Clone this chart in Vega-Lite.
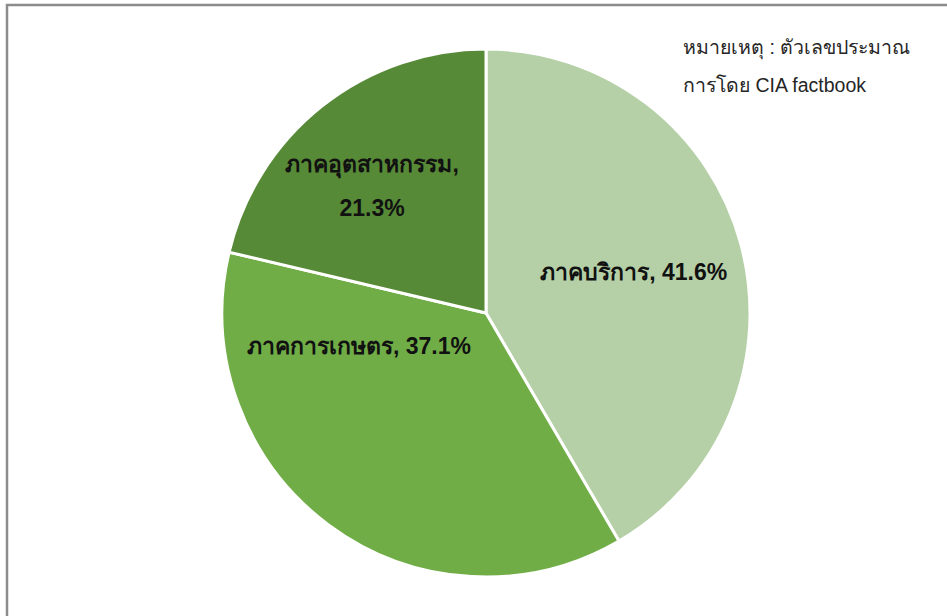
{
  "$schema": "https://vega.github.io/schema/vega-lite/v6.json",
  "width": 958,
  "height": 616,
  "autosize": {"type": "none"},
  "padding": {"left": 7, "top": 5, "right": 0, "bottom": 0},
  "background": "white",
  "view": {"stroke": "#8c8c8c", "strokeWidth": 2.5, "fill": "white"},
  "title": {
    "text": ["หมายเหตุ : ตัวเลขประมาณ", "การโดย CIA factbook"],
    "anchor": "start",
    "orient": "top",
    "frame": "group",
    "baseline": "alphabetic",
    "dx": 676,
    "offset": -106,
    "font": "Liberation Sans",
    "fontSize": 19.5,
    "fontWeight": "normal",
    "color": "#262626",
    "lineHeight": 38
  },
  "data": {
    "values": [
      {"category": "ภาคบริการ", "value": 41.6, "label": "ภาคบริการ, 41.6%"},
      {"category": "ภาคการเกษตร", "value": 37.1, "label": "ภาคการเกษตร, 37.1%"},
      {"category": "ภาคอุตสาหกรรม", "value": 21.3, "label": "ภาคอุตสาหกรรม,\n21.3%"}
    ]
  },
  "encoding": {
    "theta": {"field": "value", "type": "quantitative", "stack": true},
    "order": {"field": "value", "type": "quantitative", "sort": "descending"}
  },
  "layer": [
    {
      "mark": {"type": "arc", "outerRadius": 264, "stroke": "white", "strokeWidth": 3},
      "encoding": {
        "color": {
          "field": "category",
          "type": "nominal",
          "scale": {
            "domain": ["ภาคบริการ", "ภาคการเกษตร", "ภาคอุตสาหกรรม"],
            "range": ["#b5d0a6", "#70ad47", "#578a37"]
          },
          "legend": null
        }
      }
    },
    {
      "mark": {
        "type": "text",
        "radius": 153,
        "font": "Liberation Sans",
        "fontSize": 23,
        "fontWeight": "bold",
        "color": "#111111",
        "lineBreak": "\n",
        "lineHeight": 44,
        "align": "center",
        "baseline": "middle",
        "dx": {"expr": "datum.category == 'ภาคการเกษตร' ? -36 : datum.category == 'ภาคอุตสาหกรรม' ? -19 : 0"},
        "dy": {"expr": "datum.category == 'ภาคการเกษตร' ? -89 : datum.category == 'ภาคอุตสาหกรรม' ? -28 : 0"}
      },
      "encoding": {
        "text": {"field": "label", "type": "nominal"}
      }
    }
  ]
}
